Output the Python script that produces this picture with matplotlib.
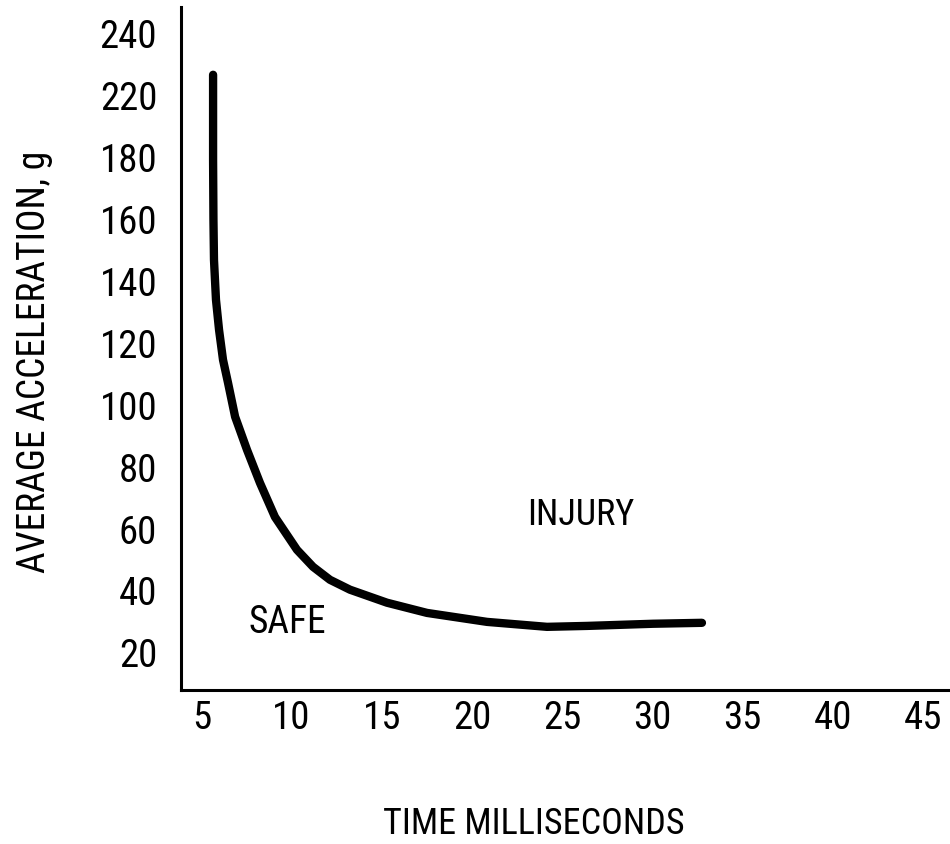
import numpy as np
import matplotlib
matplotlib.use("Agg")
import matplotlib.pyplot as plt

plt.rcParams.update({
    'font.family': ['Roboto Condensed', 'DejaVu Sans'],
    'axes.linewidth': 2.2,
})

# curve (time in ms, average acceleration in g)
time_ms = [5.65, 5.65, 5.65, 5.67, 5.70, 5.81, 5.98, 6.20, 6.48, 6.87, 7.53, 8.25,
           9.08, 10.30, 11.19, 12.13, 13.24, 15.29, 17.51, 20.84, 24.16, 26.38,
           30.04, 32.75]
accel_g = [226.8, 200.0, 179.3, 159.9, 147.0, 134.1, 124.4, 114.7, 107.2, 96.3,
           85.6, 74.9, 63.9, 53.3, 47.8, 43.6, 40.4, 36.2, 32.9, 30.0, 28.4, 28.7,
           29.4, 29.7]

x_ticks = [5, 10, 15, 20, 25, 30, 35, 40, 45]
# the original axis has no 200 label: 180 -> 220 takes one tick step
y_ticks = [20, 40, 60, 80, 100, 120, 140, 160, 180, 220, 240]

# piecewise scale that squeezes 180..220 into one step, like the original
def fwd(y):
    return np.interp(y, [-1e4, 180, 220, 1e4], [-1e4, 180, 200, 1e4 - 20])

def inv(v):
    return np.interp(v, [-1e4, 180, 200, 1e4 - 20], [-1e4, 180, 220, 1e4])

fig = plt.figure(figsize=(9.5, 8.44), dpi=100)
ax = fig.add_axes([0.1905, 0.1825, 0.8095, 0.8092])
ax.set_yscale('function', functions=(fwd, inv))

ax.plot(time_ms, accel_g, color='black', linewidth=6, solid_capstyle='round',
        solid_joinstyle='round')

ax.set_xlim(3.87, 46.5)
ax.set_ylim(8, 248.7)

ax.set_xticks(x_ticks)
ax.set_xticklabels([str(v) for v in x_ticks])
ax.set_yticks(y_ticks)
ax.set_yticklabels([str(v) for v in y_ticks])
ax.yaxis.set_minor_locator(matplotlib.ticker.NullLocator())
ax.xaxis.set_minor_locator(matplotlib.ticker.NullLocator())
ax.tick_params(axis='both', length=0, labelsize=28)
ax.tick_params(axis='y', pad=17)
ax.tick_params(axis='x', pad=7)

for side in ['top', 'right']:
    ax.spines[side].set_visible(False)

ax.set_xlabel('TIME MILLISECONDS', fontsize=26)
ax.xaxis.set_label_coords(0.459, -0.17)
ax.xaxis.label.set_va('top')
ax.set_ylabel('AVERAGE ACCELERATION, g', fontsize=27)
ax.yaxis.set_label_coords(-0.166, 0.48)

ax.text(26.05, 64.6, 'INJURY', fontsize=26, ha='center', va='center')
ax.text(9.75, 29.7, 'SAFE', fontsize=27, ha='center', va='center')

fig.savefig('out.png', dpi=100)
